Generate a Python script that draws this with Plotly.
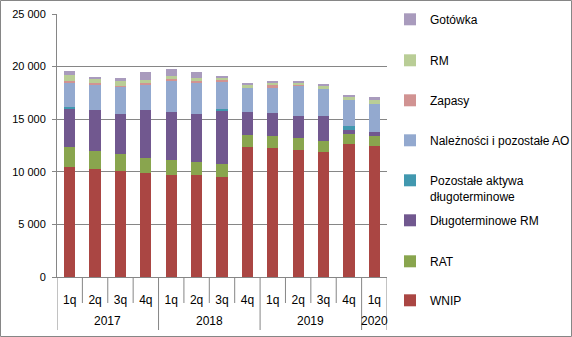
import plotly.graph_objects as go

years = ["2017"] * 4 + ["2018"] * 4 + ["2019"] * 4 + ["2020"]
quarters = ["1q", "2q", "3q", "4q", "1q", "2q", "3q", "4q", "1q", "2q", "3q", "4q", "1q"]

series_names = ["WNIP", "RAT", "Długoterminowe RM", "Pozostałe aktywa<br>długoterminowe",
                "Należności i pozostałe AO", "Zapasy", "RM", "Gotówka"]

wnip = [10430, 10250, 10030, 9930, 9740, 9650, 9460, 12320, 12230, 12030, 11840, 12610, 12420]
rat = [1910, 1700, 1620, 1340, 1340, 1240, 1240, 1150, 1140, 1150, 1050, 950, 950]
dlug_rm = [3700, 3900, 3820, 4580, 4580, 4580, 5150, 2190, 2200, 2100, 2390, 380, 380]
pozostale = [120, 0, 0, 0, 0, 0, 130, 0, 0, 0, 0, 390, 0]
naleznosci = [2260, 2420, 2610, 2390, 2960, 2960, 2580, 2300, 2480, 2900, 2580, 2480, 2680]
zapasy = [190, 130, 100, 190, 200, 190, 190, 0, 190, 60, 0, 0, 0]
rm = [580, 420, 440, 290, 280, 290, 250, 380, 290, 290, 380, 390, 380]
gotowka = [410, 190, 290, 760, 670, 570, 130, 90, 90, 90, 100, 90, 290]

y_tick_vals = [0, 5000, 10000, 15000, 20000, 25000]
y_tick_text = ["0", "5 000", "10 000", "15 000", "20 000", "25 000"]

colors = ["#AA4643", "#89A54E", "#71588F", "#4198AF", "#93A9CF", "#D19392", "#B9CD96", "#A99BBD"]
values = [wnip, rat, dlug_rm, pozostale, naleznosci, zapasy, rm, gotowka]

W, H = 572, 337
L, R, T, B = 57, 185, 14, 60
PW, PH = W - L - R, H - T - B
GRID = "#868686"

# legend item first-line centre (pixels from top), bottom series first
legend_centres = [300, 261, 220, 180, 140, 100, 60, 19]

xpos = list(range(len(quarters)))

fig = go.Figure()
for i, (name, vals, col) in enumerate(zip(series_names, values, colors)):
    lname = "legend" if i == 0 else f"legend{i + 1}"
    fig.add_trace(go.Bar(x=xpos, y=vals, name=name, marker_color=col,
                         marker_line_width=0, legend=lname))

font = dict(family="Liberation Sans, Arial, sans-serif", size=11, color="#000000")
layout_legends = {}
for i, yc in enumerate(legend_centres):
    lname = "legend" if i == 0 else f"legend{i + 1}"
    layout_legends[lname] = dict(
        x=(390 - L) / PW, xanchor="left",
        y=(H - B - (yc - 14)) / PH, yanchor="top",
        bgcolor="rgba(0,0,0,0)", font=dict(family=font["family"], size=12, color="#000"),
        valign="top", itemclick=False,
    )

fig.update_layout(
    width=W, height=H,
    margin=dict(l=L, r=R, t=T, b=B, autoexpand=False),
    barmode="stack",
    bargap=0.56,
    plot_bgcolor="white", paper_bgcolor="white",
    font=font,
    showlegend=True,
    **layout_legends,
)

fig.update_yaxes(
    range=[0, 25000], tickvals=y_tick_vals, ticktext=y_tick_text,
    showgrid=True, gridcolor=GRID, gridwidth=1,
    showline=True, linecolor=GRID, linewidth=1,
    ticks="outside", ticklen=4, tickcolor=GRID,
    zeroline=False, tickfont=dict(size=11), automargin=False,
    ticklabelstandoff=4,
)
fig.update_xaxes(
    range=[-0.5, len(quarters) - 0.5], tickvals=xpos, ticktext=quarters,
    showline=True, linecolor=GRID, linewidth=1,
    ticks="", showgrid=False, zeroline=False, automargin=False,
    tickfont=dict(size=12), ticklabelstandoff=12,
)

# category boundary ticks and year group dividers / labels
px = 1.0 / PH
for i in range(len(quarters) + 1):
    xb = i - 0.5
    is_group = (i == 0 or i == len(quarters) or years[i] != years[i - 1])
    depth = 53 if is_group else 26
    fig.add_shape(type="line", xref="x", yref="paper", x0=xb, x1=xb,
                  y0=0, y1=-depth * px, line=dict(color=GRID, width=1))

start = 0
for i in range(1, len(years) + 1):
    if i == len(years) or years[i] != years[start]:
        fig.add_annotation(x=(start + i - 1) / 2, xref="x", y=-44 * px, yref="paper",
                           text=years[start], showarrow=False, yanchor="middle",
                           font=dict(size=12, color="#000"))
        start = i

fig.add_shape(type="rect", xref="paper", yref="paper",
              x0=(0.5 - L) / PW, x1=(W - 0.5 - L) / PW,
              y0=-(B - 0.5) / PH, y1=(H - B - 0.5) / PH,
              line=dict(color=GRID, width=1), layer="below")

fig.write_html("out.html")
